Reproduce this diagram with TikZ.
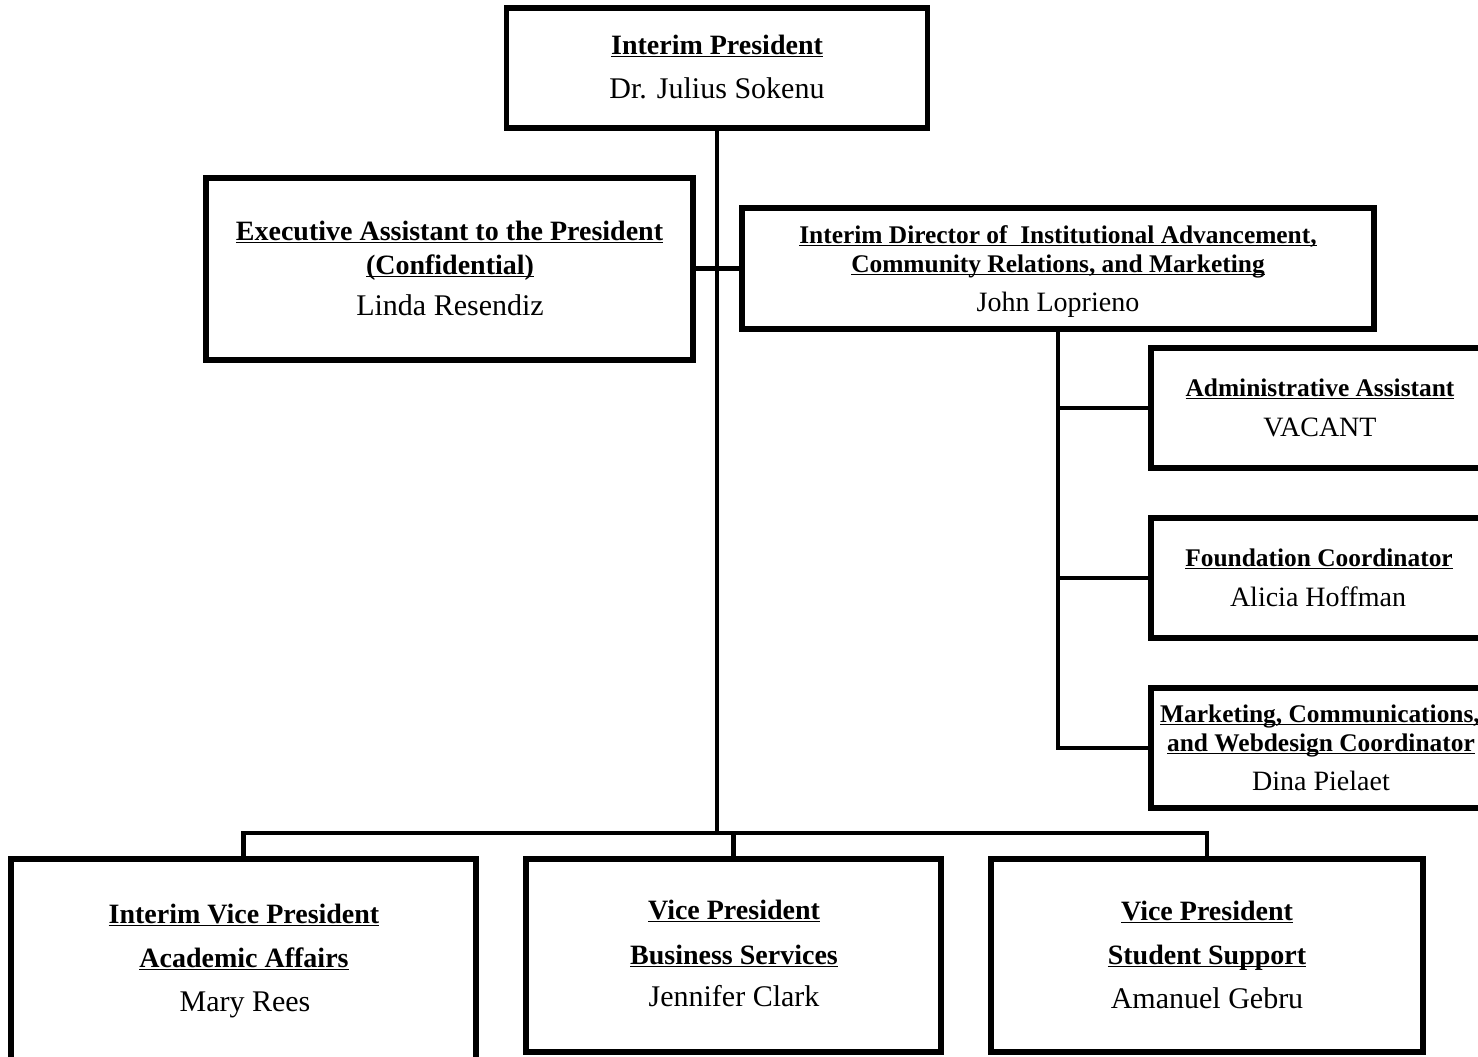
\documentclass[tikz,border=0pt]{standalone}
\usepackage{fontspec}
\setmainfont{Liberation Serif}
\newcommand\myul[1]{\underline{\smash{#1}}}
\newcommand\fntBigB{\fontsize{14}{16}\bfseries\selectfont}
\newcommand\fntBigR{\fontsize{15}{17}\selectfont}
\newcommand\fntSmlB{\fontsize{12.7}{15}\bfseries\selectfont}
\newcommand\fntSmlR{\fontsize{14}{16}\selectfont}
\tikzset{
  box/.style={draw=black, line width=2.6pt, rectangle, inner sep=0pt, fill=white},
  conn/.style={draw=black, line width=2.4pt},
  tbig/.style={anchor=base, inner sep=0pt, font=\fntBigB},
  rbig/.style={anchor=base, inner sep=0pt, font=\fntBigR},
  tsml/.style={anchor=base, inner sep=0pt, font=\fntSmlB},
  rsml/.style={anchor=base, inner sep=0pt, font=\fntSmlR},
}
\begin{document}
\begin{tikzpicture}[x=0.5pt, y=-0.5pt]
\useasboundingbox[fill=white] (0,0) rectangle (1478,1056);

\coordinate (j) at (717,833);

% boxes
\node[box, minimum width=210.5pt, minimum height=60pt] (pres) at (717,68) {};
\node[box, minimum width=243.5pt, minimum height=91pt] (exec) at (449.5,269) {};
\node[box, minimum width=316pt, minimum height=60.5pt] (dir) at (1058,268.5) {};
\node[box, minimum width=169.5pt, minimum height=60pt] (adm) at (1320.5,408) {};
\node[box, minimum width=169.5pt, minimum height=60pt] (fnd) at (1320.5,578) {};
\node[box, minimum width=169.5pt, minimum height=60pt] (mkt) at (1320.5,748) {};
\node[box, minimum width=232.5pt, minimum height=101.5pt] (vpa) at (243.5,960.5) {};
\node[box, minimum width=207.5pt, minimum height=96.5pt] (vpb) at (733.5,955.5) {};
\node[box, minimum width=216pt, minimum height=96.5pt] (vps) at (1207,955.5) {};

% connectors
\draw[conn] (pres.south) -- (j);
\draw[conn] (dir.west) -- (dir.west -| exec.east);
\draw[conn] (vpa.north) |- (j) -| (vps.north);
\draw[conn] (vpb.north) -- (vpb.north |- j);
\draw[conn] (dir.south) -- (dir.south |- mkt.west) -- (mkt.west);
\draw[conn] (dir.south |- adm.west) -- (adm.west);
\draw[conn] (dir.south |- fnd.west) -- (fnd.west);

% texts
\node[tbig] (presT) at (717,54) {\myul{Interim President}};
\node[rbig] (presN) at (717,98) {Dr. Julius Sokenu};

\node[tbig] (execT1) at (449.5,240) {\myul{Executive Assistant to the President}};
\node[tbig] (execT2) at (450,274) {\myul{(Confidential)}};
\node[rbig] (execN) at (450,315) {Linda Resendiz};

\node[tsml] (dirT1) at (1058,243) {\myul{Interim Director of~ Institutional Advancement,}};
\node[tsml] (dirT2) at (1058,272) {\myul{Community Relations, and Marketing}};
\node[rsml] (dirN) at (1058,311) {John Loprieno};

\node[tsml] (admT) at (1320,396) {\myul{Administrative Assistant}};
\node[rsml] (admN) at (1320,436) {VACANT};

\node[tsml] (fndT) at (1319,566) {\myul{Foundation Coordinator}};
\node[rsml] (fndN) at (1318,606) {Alicia Hoffman};

\node[tsml] (mktT1) at (1320,722) {\myul{Marketing, Communications,}};
\node[tsml] (mktT2) at (1321,751) {\myul{and Webdesign Coordinator}};
\node[rsml] (mktN) at (1321,790) {Dina Pielaet};

\node[tbig] (vpaT1) at (244,923) {\myul{Interim Vice President}};
\node[tbig] (vpaT2) at (244,967) {\myul{Academic Affairs}};
\node[rbig] (vpaN) at (245,1011) {Mary Rees};

\node[tbig] (vpbT1) at (734,919) {\myul{Vice President}};
\node[tbig] (vpbT2) at (734,964) {\myul{Business Services}};
\node[rbig] (vpbN) at (734,1006) {Jennifer Clark};

\node[tbig] (vpsT1) at (1207,920) {\myul{Vice President}};
\node[tbig] (vpsT2) at (1207,964) {\myul{Student Support}};
\node[rbig] (vpsN) at (1207,1008) {Amanuel Gebru};
\end{tikzpicture}
\end{document}
